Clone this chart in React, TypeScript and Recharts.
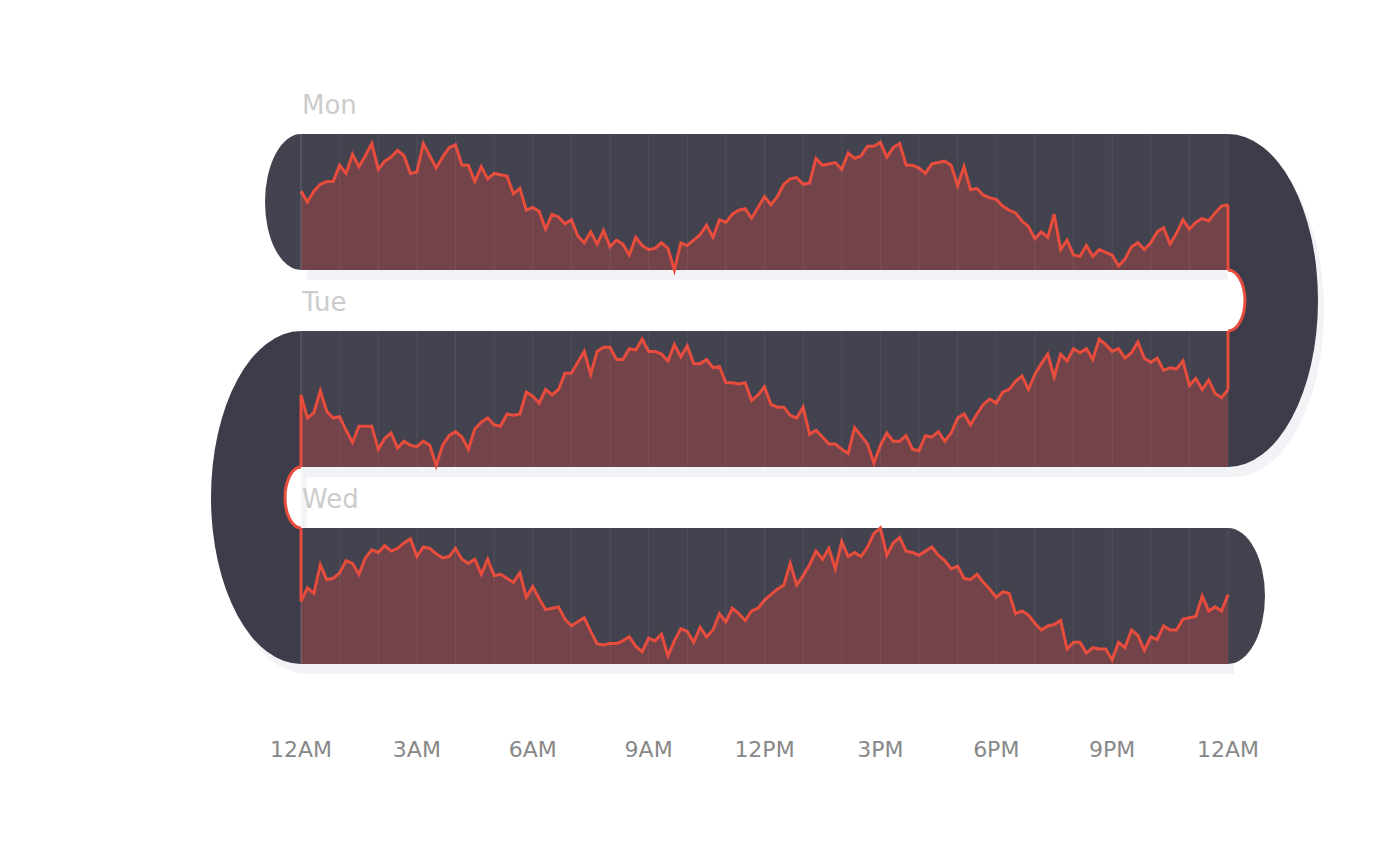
import { Area, ComposedChart, ReferenceLine, XAxis, YAxis } from "recharts";

// values per 10-minute slot, 0 = bottom of the day's band, 100 = top
const MON = [
  58, 50, 58, 63, 65, 65, 77, 71, 85, 76, 84, 93, 74, 80, 83, 88, 84, 71, 72, 93,
  84, 75, 83, 90, 92, 77, 77, 65, 76, 67, 71, 70, 69, 56, 60, 44, 46, 43, 30, 41,
  39, 34, 37, 25, 20, 28, 19, 29, 17, 22, 19, 11, 24, 18, 15, 16, 20, 16, 0, 20,
  18, 22, 26, 33, 24, 37, 35, 41, 44, 45, 38, 46, 54, 48, 54, 63, 67, 68, 63, 64,
  82, 77, 78, 79, 74, 86, 82, 84, 91, 91, 94, 83, 90, 93, 77, 77, 75, 71, 78, 79,
  80, 77, 62, 76, 59, 60, 55, 53, 52, 47, 44, 42, 36, 32, 23, 28, 24, 41, 15, 22,
  11, 10, 18, 10, 15, 13, 11, 3, 8, 17, 20, 15, 20, 28, 31, 19, 27, 37, 30, 35,
  38, 36, 42, 47, 48,
];
const TUE = [
  53, 36, 40, 56, 41, 36, 37, 27, 18, 30, 30, 30, 13, 21, 25, 14, 19, 16, 15, 19,
  16, 1, 16, 23, 26, 22, 13, 28, 33, 36, 31, 30, 39, 38, 39, 55, 52, 47, 57, 53,
  57, 69, 69, 77, 85, 68, 85, 88, 88, 79, 79, 87, 86, 94, 85, 85, 83, 78, 90, 81,
  89, 76, 76, 79, 73, 74, 62, 62, 61, 62, 49, 53, 59, 46, 44, 44, 38, 36, 44, 24,
  27, 22, 17, 17, 13, 10, 29, 23, 17, 3, 16, 25, 19, 19, 23, 13, 12, 23, 22, 26,
  19, 25, 36, 39, 31, 39, 46, 50, 47, 55, 57, 63, 67, 57, 68, 76, 83, 66, 83, 78,
  87, 84, 87, 79, 94, 90, 85, 87, 80, 84, 92, 80, 77, 80, 71, 73, 72, 78, 60, 65,
  57, 64, 54, 51, 57,
];
const WED = [
  46, 56, 52, 73, 62, 63, 67, 76, 74, 66, 78, 84, 82, 87, 83, 85, 89, 92, 79, 86,
  85, 81, 78, 79, 85, 77, 74, 77, 66, 77, 65, 66, 63, 60, 67, 49, 57, 48, 40, 41,
  42, 33, 28, 31, 34, 24, 15, 14, 15, 15, 17, 20, 13, 9, 19, 17, 22, 6, 17, 26,
  24, 16, 27, 20, 25, 37, 31, 41, 37, 32, 39, 41, 47, 51, 55, 58, 74, 58, 65, 73,
  83, 77, 85, 70, 90, 79, 82, 79, 86, 96, 100, 80, 89, 93, 83, 82, 80, 83, 86, 80,
  76, 70, 72, 63, 62, 66, 60, 55, 49, 53, 52, 37, 39, 36, 30, 25, 28, 29, 32, 11,
  16, 16, 8, 12, 11, 11, 3, 16, 12, 25, 21, 10, 20, 18, 28, 25, 25, 33, 34, 35,
  50, 39, 42, 39, 51,
];

const DAYS = ["Mon", "Tue", "Wed"];
const DAY_KEYS = ["mon", "tue", "wed"];
const STEP_MINUTES = 10;
const TICK_MINUTES = [0, 180, 360, 540, 720, 900, 1080, 1260, 1440];
const TICK_LABELS = ["12AM", "3AM", "6AM", "9AM", "12PM", "3PM", "6PM", "9PM", "12AM"];

const data = MON.map((mon, i) => ({ t: i * STEP_MINUTES, mon, tue: TUE[i], wed: WED[i] }));

// layout
const W = 1400;
const H = 866;
const LEFT = 301;
const RIGHT = 1228;
const TOP = 134;
const BAND = 136;
const GAP = 61;
const PLOT_H = 3 * BAND + 2 * GAP;
const AXIS_H = 100;
const BIG_RX = 90;
const SMALL_RX = 36;
const NOTCH_RX = 17;
const LINE_W = 3;

const RED = "#e74c3c";
const BAND_BG = "#43424f";
const CAP_BG = "#3d3c4b";
const SHADOW = "#f2f3f6";

const bandY = (row: number) => TOP + row * (BAND + GAP);
const span = (PLOT_H * 100) / BAND;
const domainFor = (row: number): [number, number] => {
  const max = 100 + (row * (BAND + GAP) * 100) / BAND;
  return [max - span, max];
};

const halfEllipse = (cx: number, cy: number, rx: number, ry: number, side: 1 | -1, close = true) =>
  `M${cx},${cy - ry} A${rx},${ry} 0 0 ${side > 0 ? 1 : 0} ${cx},${cy + ry}${close ? " Z" : ""}`;

const hours = Array.from({ length: 25 }, (_, h) => h * 60);

function Backdrop() {
  const rightCapCy = bandY(0) + BAND + GAP / 2;
  const leftCapCy = bandY(1) + BAND + GAP / 2;
  const bigRy = BAND + GAP / 2;
  const caps = (
    <>
      <path d={halfEllipse(RIGHT, rightCapCy, BIG_RX, bigRy, 1)} />
      <path d={halfEllipse(LEFT, leftCapCy, BIG_RX, bigRy, -1)} />
      {DAYS.map((d, row) => (
        <rect key={d} x={LEFT} y={bandY(row)} width={RIGHT - LEFT} height={BAND} />
      ))}
    </>
  );
  return (
    <svg width={W} height={H} style={{ position: "absolute", left: 0, top: 0 }}>
      <g transform="translate(6,10)" fill={SHADOW}>
        {caps}
      </g>
      <path d={halfEllipse(RIGHT, rightCapCy, BIG_RX, bigRy, 1)} fill={CAP_BG} />
      <path d={halfEllipse(LEFT, leftCapCy, BIG_RX, bigRy, -1)} fill={CAP_BG} />
      <path d={halfEllipse(LEFT, bandY(0) + BAND / 2, SMALL_RX, BAND / 2, -1)} fill={BAND_BG} />
      <path d={halfEllipse(RIGHT, bandY(2) + BAND / 2, SMALL_RX + 1, BAND / 2, 1)} fill={BAND_BG} />
      {DAYS.map((d, row) => (
        <rect key={d} x={LEFT} y={bandY(row)} width={RIGHT - LEFT} height={BAND} fill={BAND_BG} />
      ))}
      <path d={halfEllipse(RIGHT, rightCapCy, NOTCH_RX, GAP / 2, 1)} fill="#fff" />
      <path d={halfEllipse(LEFT, leftCapCy, NOTCH_RX - 1, GAP / 2, -1)} fill="#fff" />
      <path d={halfEllipse(RIGHT, rightCapCy, NOTCH_RX, GAP / 2, 1, false)} fill="none" stroke={RED} strokeWidth={LINE_W} />
      <path d={halfEllipse(LEFT, leftCapCy, NOTCH_RX - 1, GAP / 2, -1, false)} fill="none" stroke={RED} strokeWidth={LINE_W} />
      {DAYS.map((d, row) => (
        <text key={d} x={LEFT + 1} y={bandY(row) - 20} fill="#cccccc" fontSize={26} fontFamily="DejaVu Sans">
          {d}
        </text>
      ))}
    </svg>
  );
}

export default function App() {
  const margin = { top: TOP, left: LEFT, right: W - RIGHT, bottom: H - TOP - PLOT_H - AXIS_H };
  const last = MON.length - 1;
  return (
    <div style={{ position: "absolute", left: 0, top: 0, width: W, height: H, background: "#fff" }}>
      <Backdrop />
      <div style={{ position: "absolute", left: 0, top: 0 }}>
        <ComposedChart width={W} height={H} data={data} margin={margin}>
          <XAxis
            type="number"
            dataKey="t"
            domain={[0, 1440]}
            ticks={TICK_MINUTES}
            interval={0}
            tickFormatter={(v) => TICK_LABELS[TICK_MINUTES.indexOf(v)]}
            axisLine={false}
            tickLine={false}
            tickSize={0}
            tickMargin={77}
            height={AXIS_H}
            tick={{ fill: "#888888", fontSize: 22, fontFamily: "DejaVu Sans" }}
          />
          {DAY_KEYS.map((k, row) => (
            <YAxis key={k} yAxisId={k} hide type="number" domain={domainFor(row)} allowDataOverflow />
          ))}
          {DAY_KEYS.flatMap((k) =>
            hours.map((m) => (
              <ReferenceLine
                key={`${k}-${m}`}
                yAxisId={k}
                segment={[
                  { x: m, y: 0 },
                  { x: m, y: 100 },
                ]}
                stroke="#ffffff"
                strokeOpacity={m === 0 ? 0.2 : 0.07}
                strokeWidth={1}
                ifOverflow="visible"
              />
            ))
          )}
          {DAY_KEYS.map((k) => (
            <Area
              key={k}
              yAxisId={k}
              dataKey={k}
              type="linear"
              stroke={RED}
              strokeWidth={LINE_W}
              fill={RED}
              fillOpacity={0.29}
              baseValue={0}
              dot={false}
              activeDot={false}
              isAnimationActive={false}
            />
          ))}
          <ReferenceLine yAxisId="mon" segment={[{ x: 1440, y: MON[last] }, { x: 1440, y: 0 }]} stroke={RED} strokeWidth={LINE_W} />
          <ReferenceLine yAxisId="tue" segment={[{ x: 1440, y: 100 }, { x: 1440, y: TUE[last] }]} stroke={RED} strokeWidth={LINE_W} />
          <ReferenceLine yAxisId="tue" segment={[{ x: 0, y: TUE[0] }, { x: 0, y: 0 }]} stroke={RED} strokeWidth={LINE_W} />
          <ReferenceLine yAxisId="wed" segment={[{ x: 0, y: 100 }, { x: 0, y: WED[0] }]} stroke={RED} strokeWidth={LINE_W} />
        </ComposedChart>
      </div>
    </div>
  );
}
